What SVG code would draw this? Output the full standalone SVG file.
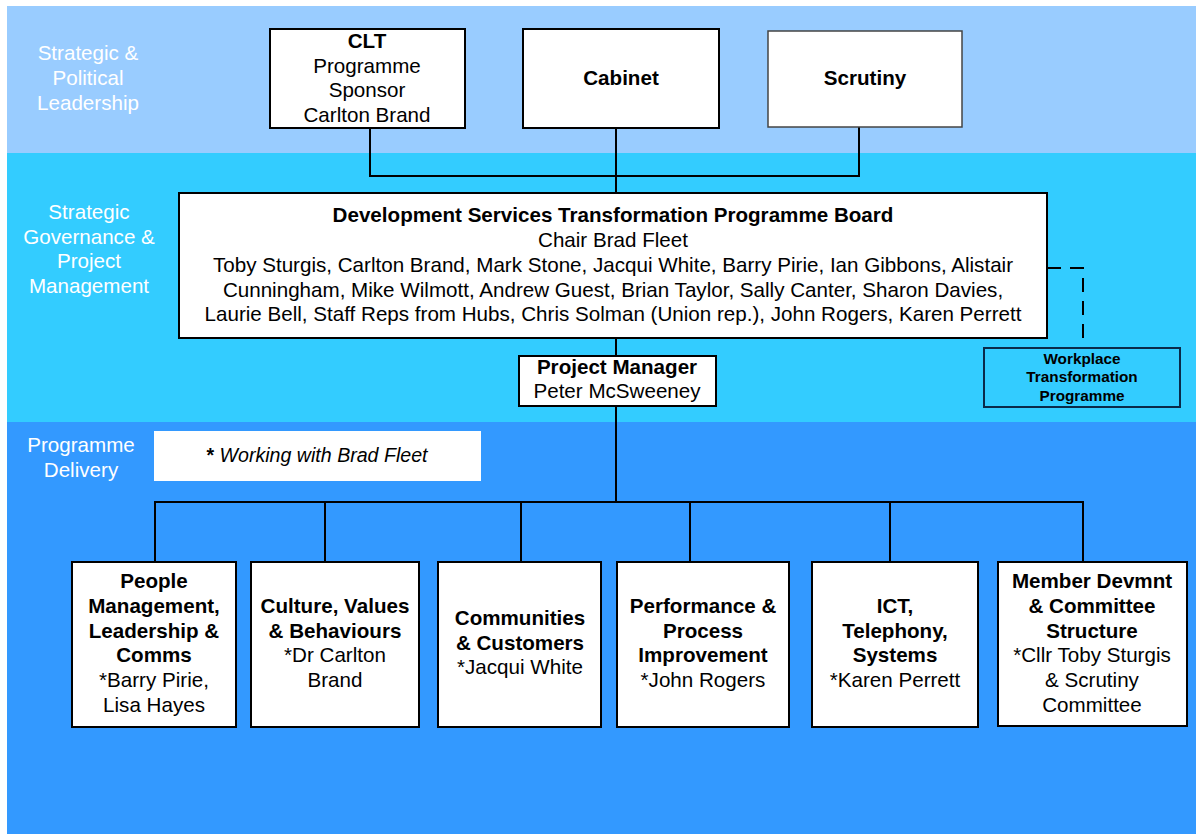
<svg xmlns="http://www.w3.org/2000/svg" width="1196" height="834" viewBox="0 0 1196 834">
<style>
.box{fill:#fff;stroke:#000;stroke-width:2}
.t{font-family:"Liberation Sans",Arial,sans-serif;font-size:20.6px;fill:#000;text-anchor:middle}
.b{font-weight:bold}
.lbl{font-family:"Liberation Sans",Arial,sans-serif;font-size:20.6px;fill:#fff;text-anchor:middle}
.wp{font-family:"Liberation Sans",Arial,sans-serif;font-size:15.3px;font-weight:bold;fill:#000;text-anchor:middle}
.ln{fill:none;stroke:#000;stroke-width:2}
</style>
<rect x="0" y="0" width="1196" height="834" fill="#fff"/>
<g id="bands">
<rect x="7" y="6" width="1189" height="147" fill="#99CCFF"/>
<rect x="7" y="153" width="1189" height="269" fill="#33CCFF"/>
<rect x="7" y="422" width="1189" height="412" fill="#3399FF"/>
<text class="lbl" x="88"><tspan x="88" y="60">Strategic &amp;</tspan><tspan x="88" y="85">Political</tspan><tspan x="88" y="110">Leadership</tspan></text>
<text class="lbl" x="89"><tspan x="89" y="219">Strategic</tspan><tspan x="89" y="244">Governance &amp;</tspan><tspan x="89" y="268">Project</tspan><tspan x="89" y="293">Management</tspan></text>
<text class="lbl" x="81"><tspan x="81" y="452">Programme</tspan><tspan x="81" y="477">Delivery</tspan></text>
</g>
<g id="connectors">
<polyline class="ln" points="370,128 370,176 859,176 859,127"/>
<line class="ln" x1="616" y1="128" x2="616" y2="193"/>
<line class="ln" x1="616" y1="338" x2="616" y2="356"/>
<line class="ln" x1="616" y1="406" x2="616" y2="502"/>
<line class="ln" x1="154" y1="502" x2="1084" y2="502"/>
<line class="ln" x1="155" y1="501" x2="155" y2="562"/>
<line class="ln" x1="325" y1="501" x2="325" y2="562"/>
<line class="ln" x1="521" y1="501" x2="521" y2="562"/>
<line class="ln" x1="690" y1="501" x2="690" y2="562"/>
<line class="ln" x1="890" y1="501" x2="890" y2="562"/>
<line class="ln" x1="1083" y1="501" x2="1083" y2="562"/>
<polyline class="ln" points="1047,268 1083,268 1083,348" stroke-dasharray="14 9"/>
</g>
<g id="clt">
<rect class="box" x="270" y="29" width="195" height="99"/>
<text class="t"><tspan class="b" x="367" y="48">CLT</tspan><tspan x="367" y="73">Programme</tspan><tspan x="367" y="97">Sponsor</tspan><tspan x="367" y="122">Carlton Brand</tspan></text>
</g>
<g id="cabinet">
<rect class="box" x="523" y="29" width="196" height="99"/>
<text class="t b" x="621" y="85">Cabinet</text>
</g>
<g id="scrutiny">
<rect x="768" y="31" width="194" height="96" fill="#fff" stroke="#444" stroke-width="1.5"/>
<text class="t b" x="865" y="85">Scrutiny</text>
</g>
<g id="board">
<rect class="box" x="179" y="193" width="868" height="145"/>
<text class="t"><tspan class="b" x="613" y="222">Development Services Transformation Programme Board</tspan><tspan x="613" y="247">Chair Brad Fleet</tspan><tspan x="613" y="272">Toby Sturgis, Carlton Brand, Mark Stone, Jacqui White, Barry Pirie, Ian Gibbons, Alistair</tspan><tspan x="613" y="297">Cunningham, Mike Wilmott, Andrew Guest, Brian Taylor, Sally Canter, Sharon Davies,</tspan><tspan x="613" y="321">Laurie Bell, Staff Reps from Hubs, Chris Solman (Union rep.), John Rogers, Karen Perrett</tspan></text>
</g>
<g id="pm">
<rect class="box" x="519" y="356" width="197" height="50"/>
<text class="t"><tspan class="b" x="617" y="374">Project Manager</tspan><tspan x="617" y="398">Peter McSweeney</tspan></text>
</g>
<g id="workplace">
<rect x="984" y="348" width="196" height="59" fill="none" stroke="#0a2a4a" stroke-width="2"/>
<text class="wp"><tspan x="1082" y="364">Workplace</tspan><tspan x="1082" y="382">Transformation</tspan><tspan x="1082" y="401">Programme</tspan></text>
</g>
<g id="note">
<rect x="154" y="431" width="327" height="50" fill="#fff"/>
<text class="t" x="317" y="462" style="font-size:19.6px"><tspan font-weight="bold">*</tspan><tspan font-style="italic"> Working with Brad Fleet</tspan></text>
</g>
<g id="people">
<rect class="box" x="72" y="562" width="164" height="165"/>
<text class="t"><tspan class="b" x="154" y="588">People</tspan><tspan class="b" x="154" y="613">Management,</tspan><tspan class="b" x="154" y="638">Leadership &amp;</tspan><tspan class="b" x="154" y="662">Comms</tspan><tspan x="154" y="687">*Barry Pirie,</tspan><tspan x="154" y="712">Lisa Hayes</tspan></text>
</g>
<g id="culture">
<rect class="box" x="251" y="562" width="168" height="165"/>
<text class="t"><tspan class="b" x="335" y="613">Culture, Values</tspan><tspan class="b" x="335" y="638">&amp; Behaviours</tspan><tspan x="335" y="662">*Dr Carlton</tspan><tspan x="335" y="687">Brand</tspan></text>
</g>
<g id="communities">
<rect class="box" x="438" y="562" width="163" height="165"/>
<text class="t"><tspan class="b" x="520" y="625">Communities</tspan><tspan class="b" x="520" y="650">&amp; Customers</tspan><tspan x="520" y="674">*Jacqui White</tspan></text>
</g>
<g id="performance">
<rect class="box" x="617" y="562" width="172" height="165"/>
<text class="t"><tspan class="b" x="703" y="613">Performance &amp;</tspan><tspan class="b" x="703" y="638">Process</tspan><tspan class="b" x="703" y="662">Improvement</tspan><tspan x="703" y="687">*John Rogers</tspan></text>
</g>
<g id="ict">
<rect class="box" x="812" y="562" width="166" height="165"/>
<text class="t"><tspan class="b" x="895" y="613">ICT,</tspan><tspan class="b" x="895" y="638">Telephony,</tspan><tspan class="b" x="895" y="662">Systems</tspan><tspan x="895" y="687">*Karen Perrett</tspan></text>
</g>
<g id="member">
<rect class="box" x="998" y="562" width="189" height="164"/>
<text class="t"><tspan class="b" x="1092" y="588">Member Devmnt</tspan><tspan class="b" x="1092" y="613">&amp; Committee</tspan><tspan class="b" x="1092" y="638">Structure</tspan><tspan x="1092" y="662">*Cllr Toby Sturgis</tspan><tspan x="1092" y="687">&amp; Scrutiny</tspan><tspan x="1092" y="712">Committee</tspan></text>
</g>
</svg>
